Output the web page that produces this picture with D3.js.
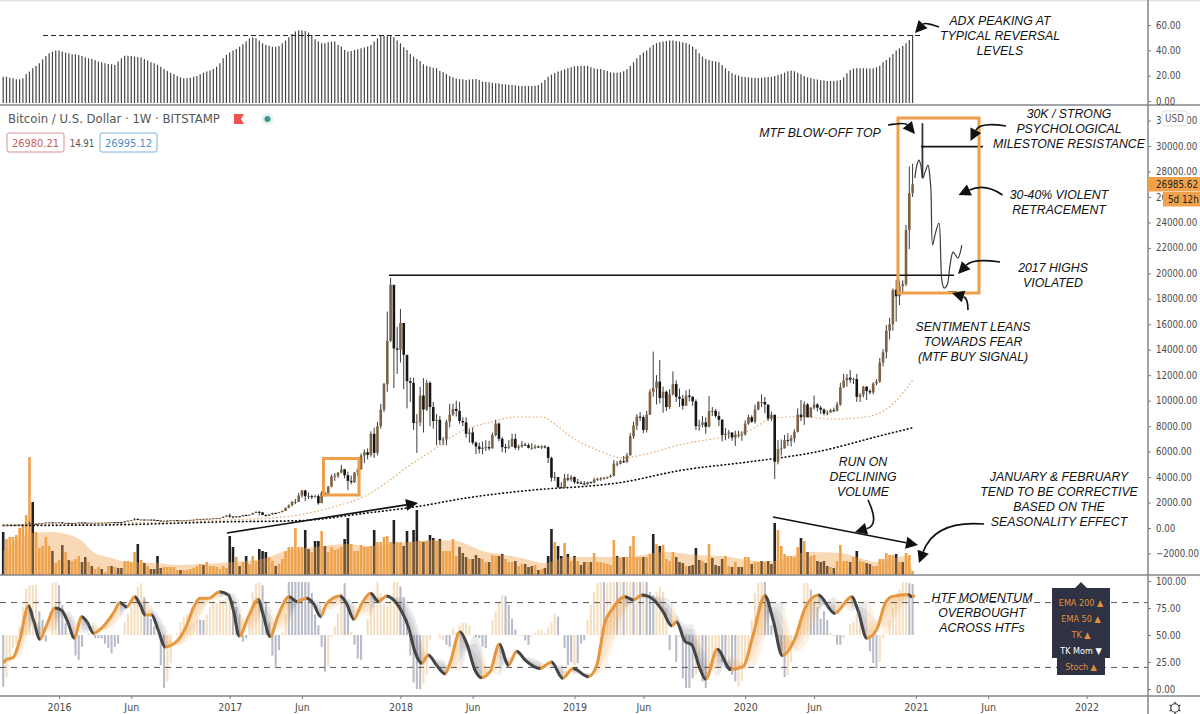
<!DOCTYPE html>
<html>
<head>
<meta charset="utf-8">
<script src="https://cdn.jsdelivr.net/npm/d3@7"></script>
<style>
  html, body { margin: 0; padding: 0; background: #fff; }
  svg { display: block; }
  .axis text { font-family: "DejaVu Sans Condensed", "DejaVu Sans", sans-serif; font-size: 9.6px; fill: #4a4a4a; }
  .axis line, .axis path { stroke: #787b86; }
  .note { font-family: "Liberation Sans", Arial, sans-serif; font-style: italic; font-size: 12.3px; fill: #111; text-anchor: middle; dominant-baseline: central; }
  .ui { font-family: "DejaVu Sans Condensed", "DejaVu Sans", sans-serif; }
</style>
</head>
<body>
<script>
// weekly bars, index 0 = Sep 2015
const weekClose = [
  230,232,235,239,245,262,283,325,372,332,
  326,371,388,432,440,422,432,448,380,402,
  375,373,405,437,430,410,412,415,416,419,
  423,430,450,460,458,457,441,530,580,610,
  700,665,665,650,660,655,625,590,570,580,
  575,610,623,605,605,615,620,640,655,700,
  705,705,730,730,770,780,790,895,990,905,
  830,920,915,1020,1000,1050,1180,1270,1230,1030,
  960,1080,1180,1170,1250,1340,1580,1780,2050,2050,
  2550,2950,2500,2500,2450,2500,1950,2750,2700,3250,
  4050,4100,4350,4600,4150,3700,3600,4350,4600,5700,
  5950,5750,7400,5900,8000,9300,11300,14700,19100,14100,
  14000,16100,13600,11530,11400,8240,8300,10400,9300,11400,
  9500,8400,8500,6900,6950,8350,8900,9350,9200,8400,
  8300,7400,7500,6700,6400,6200,6300,6350,6250,7300,
  8200,7000,6350,6300,6400,7000,6300,6400,6550,6500,
  6300,6300,6400,6350,6400,6350,5500,3950,4000,3200,
  3150,3900,3800,4000,3600,3550,3500,3450,3600,3550,
  3800,3850,3900,3950,4000,4100,5050,5050,5250,5200,
  5700,7200,8050,8750,8700,7700,8900,10700,11000,11500,
  10200,10700,9500,10500,11300,10300,10150,9600,10400,10300,
  9950,8000,8100,8300,7950,9200,9200,8800,8500,7300,
  7400,7500,7100,7300,7300,7350,8200,8700,8350,9300,
  9900,9900,9700,8600,8900,5200,6200,6250,6900,6850,
  7050,7550,8900,8700,9700,8700,9450,9700,9450,9300,
  9000,9050,9250,9200,9700,11050,11600,11800,11650,11700,
  10300,10450,11100,10750,10650,11350,11500,13000,13800,15500,
  16000,18700,18200,19000,19150,23400,26300,26985
];
const weekHigh = [
  236,238,240,242,248,266,292,335,500,385,
  340,378,392,445,470,465,440,462,448,410,
  405,382,410,445,445,438,420,420,422,424,
  428,433,455,468,468,462,457,535,590,625,
  785,770,680,672,680,665,660,630,595,590,
  585,615,630,625,610,620,625,645,660,735,
  715,720,745,745,780,790,795,900,1000,1140,
  910,945,930,1030,1060,1060,1200,1290,1330,1245,
  1060,1105,1200,1210,1265,1360,1620,1850,2120,2280,
  2760,2980,2990,2790,2610,2610,2650,2900,2860,3300,
  4200,4320,4400,4960,4650,4420,4120,4400,4680,5850,
  6170,6250,7600,7880,8350,9750,11400,17000,19650,17400,
  15800,17200,14900,12000,11800,11800,8950,11100,11770,11640,
  11530,9900,8950,8800,7150,8500,9750,9770,10000,9900,
  8700,8700,7800,7900,6800,6700,6800,6900,6850,7500,
  8500,8300,7150,6600,6900,7400,7410,6550,6830,6700,
  6650,6650,6560,6480,6500,6500,6400,5600,4400,4000,
  3600,4250,4250,4150,4050,3850,3700,3700,3650,3650,
  3950,3950,4000,4000,4030,4200,5350,5250,5350,5650,
  5900,7450,8350,8950,9100,8850,9200,10900,13850,12000,
  13200,11100,10800,10900,12300,11600,10950,10450,10800,10900,
  10350,10100,8500,8800,8700,10350,9500,9350,9150,8550,
  7850,7700,7500,7650,7650,7600,8450,8900,8850,9700,
  9950,10500,10300,9450,9150,8100,6900,6950,7300,7450,
  7300,7750,9400,10050,9950,9800,9500,10400,9800,9600,
  9400,9250,9350,9450,9900,11400,12100,12100,12400,11800,
  12100,10600,11150,11150,10900,11450,11700,13350,14050,15950,
  16500,18800,19500,19400,19450,23800,28400,28600
];
const weekLow = [
  226,228,230,234,240,245,260,280,320,300,
  305,315,360,385,425,415,415,425,365,375,
  372,365,370,400,425,405,405,410,412,415,
  418,420,428,445,445,450,430,440,520,570,
  605,620,630,640,645,650,620,550,560,565,
  565,570,605,600,590,600,610,615,630,650,
  680,690,695,720,730,750,775,785,885,785,
  760,815,885,905,950,990,1040,1150,975,1000,
  900,930,1040,1110,1160,1230,1330,1560,1700,1870,
  2050,2390,2100,2280,2270,2400,1830,2250,2470,2650,
  3200,3700,3950,4300,3900,2980,3440,3550,4100,4600,
  5100,5400,5600,5500,5700,7800,9100,10700,14600,11000,
  12100,13000,10900,9400,9900,7700,5900,8000,7500,9200,
  8000,7800,6500,6530,6500,6500,7900,8800,8750,8200,
  8000,7100,6700,6550,5800,5850,5800,6050,6100,6250,
  7200,6800,5950,5900,6200,6350,6150,6100,6300,6450,
  6250,6150,6200,6300,6200,6250,5100,3650,3700,3150,
  3130,3150,3650,3650,3450,3450,3450,3350,3370,3500,
  3520,3700,3700,3800,3850,3950,4050,4850,5000,5100,
  5100,5700,7000,7700,8400,7450,7500,8900,10300,9700,
  9800,9050,9200,9350,10400,9900,9500,9300,9600,9950,
  9600,7700,7650,7900,7400,7900,8800,8650,8000,6800,
  6900,7000,6850,6450,7100,6850,7250,8100,8250,8200,
  9250,9500,9000,8400,8400,3850,5000,5700,6250,6450,
  6400,6700,7500,8400,8100,8700,8700,9300,9150,8950,
  8850,8850,9100,9100,9150,9600,11000,11100,11400,11300,
  9900,9900,10250,10050,10500,10500,11200,11400,12700,13300,
  14800,15500,16200,17500,18500,19000,21900,26000
];
const adxValues = [
  19.2,19.2,18.4,17.9,17.1,17.1,17.9,21.3,23.2,25.8,
  27.7,29.8,32.9,35.6,37.7,39,39.8,39.8,39,38.2,
  37.7,36.9,36.9,36.4,35.6,34.5,33.7,33.2,32.4,31.1,
  30.6,29.8,29.2,29,28.5,31.1,33.7,35.8,35.8,35.6,
  35,34.5,34.3,33.2,31.9,30.6,29.8,28.5,27.1,25.3,
  23.7,22.4,21.3,19.8,18.7,17.9,17.9,18.4,19.2,19.8,
  21.1,22.4,23.2,24,25.3,27.1,29.8,33.7,36.4,38.2,
  39.8,41.1,42.9,44.8,46.9,49.5,50.3,49.5,47.7,45.6,
  44.3,43.7,42.9,42.9,43.5,45.6,47.7,50.3,52.9,54.8,
  55.6,55.6,55.3,54,52.2,48.8,46.9,45.6,45.6,46.4,
  46.9,46.9,44.3,43,40.3,39,39.5,40.3,40.9,41.7,
  42.2,43,44.3,46.9,49.5,51.4,51.4,51.4,51.4,50.3,
  47.7,45.6,42.4,40.3,37.2,35,33.2,31.6,29,27.9,
  27.1,26.3,25.8,23.7,22.6,21.3,19.8,18.7,17.7,17.4,
  17.1,16.6,16.9,17.1,17.4,16.6,15.3,15,14.8,14.5,
  14,14,13.4,13.2,12.9,12.6,12.4,12.1,11.9,11.9,
  11.9,11.9,12.1,12.6,14.5,16.6,19.2,20.8,22.1,23.2,
  24,25,25.8,26.6,27.4,27.7,27.9,27.9,27.7,26.6,
  25.8,25.3,25.3,24.5,23.7,22.6,22.4,22.4,22.6,23.5,
  25,27.7,30.6,33.7,36.4,38.2,39.8,42.2,44.3,45.6,
  46.4,46.9,47.4,47.7,47.7,47.4,46.9,46.4,45.8,44.8,
  43,40.9,37.7,35,33.2,32.4,31.6,31.1,30.6,28.5,
  25.8,23.7,21.9,20.8,20,19.2,19,18.7,18.4,18.4,
  18.2,18.4,18.7,19,19.2,19.8,20.6,21.3,22.4,23.5,
  24,23.5,22.4,21.1,19.8,18.7,18.2,17.4,16.9,16.3,
  16.1,15.8,15.8,15.8,16.1,16.6,18.7,21.9,24.5,25.6,
  25.8,25.8,25.8,25.6,25.6,25.8,26.6,27.9,30.6,32.4,
  34.5,37.2,39.8,41.6,43.5,45.6,48.2,52.2
];
const volumeValues = [
  43,36,38,38,40,47,51,60,118,73,
  43,27,29,38,29,24,12,15,30,23,
  15,14,16,19,13,18,13,9,6,8,
  6,3,9,9,8,7,7,14,14,13,
  23,31,15,12,9,6,6,19,7,8,
  8,8,8,5,5,5,5,6,7,9,
  11,10,13,9,9,8,6,9,7,39,
  28,18,9,13,19,11,19,14,26,24,
  23,18,14,9,11,16,24,28,28,47,
  28,28,45,26,23,34,34,44,29,23,
  28,25,26,28,36,57,31,24,24,30,
  28,28,29,45,33,33,38,39,33,55,
  33,33,29,44,33,45,65,34,33,34,
  40,37,34,36,24,24,24,36,19,28,
  22,18,16,16,20,17,16,13,13,20,
  19,19,21,16,13,13,14,9,11,11,
  8,9,10,5,6,7,19,46,33,29,
  19,32,21,14,19,14,10,13,13,13,
  22,13,13,12,11,10,35,19,17,18,
  18,29,39,18,18,18,18,21,41,31,
  29,30,16,14,23,18,13,12,9,9,
  10,27,15,14,12,31,17,10,9,16,
  19,9,8,13,8,8,18,18,11,13,
  13,14,13,14,11,52,45,29,21,19,
  19,18,28,37,34,23,19,20,14,13,
  14,9,8,7,14,30,14,14,13,18,
  24,14,13,12,11,9,9,16,16,22,
  20,20,21,13,13,22,20,4
];
const volumeDownBars = [
  0,9,15,18,20,24,25,27,30,33,35,36,41,43,45,46,47,48,54,61,69,70,72,74,78,79,80,83,
  92,93,95,96,98,104,105,113,119,122,123,125,126,128,130,131,133,139,140,141,143,144,145,148,
  151,152,156,159,160,161,163,165,166,167,169,170,172,174,176,177,179,187,189,195,198,200,
  205,206,207,209,210,211,212,214,216,217,218,219,222,224,225,228,231,233,234,235,243,245,
  248,249,250,251,253,258,260,263,264,272,274
];
const volumeAvgIdx = [0,9,15,19,24,27,33,38,47,53,60,70,80,86,95,105,111,121,131,138,146,151,158,165,172,189,202,211,219,230,235,245,255,261,266,275,277];
const volumeAvgVal = [24,42,43,41,34,24,17,13,12,10,11,13,17,24,28,31,29,32,35,34,24,21,17,12,18,18,23,20,19,14,14,23,22,17,13,19,4];

const histValues = [
  2,11,25,38,42,58,76,93,96,96,
  96,72,64,44,50,98,99,96,78,61,
  52,47,31,27,39,50,52,50,47,47,
  47,42,38,33,39,42,50,62,70,76,
  79,95,98,85,67,65,58,52,22,1,
  7,24,50,52,62,67,69,59,61,64,
  64,64,69,76,82,79,82,82,84,85,
  82,76,69,44,47,72,90,98,99,96,
  81,61,31,21,36,53,69,99,99,99,
  99,99,99,99,89,69,59,39,16,21,
  48,58,70,89,98,76,53,41,28,27,
  50,65,78,89,99,89,79,76,82,99,
  99,95,85,65,31,6,0,0,5,13,
  46,50,50,47,45,41,39,56,53,59,
  61,61,59,50,48,47,39,38,50,64,
  72,81,87,86,78,65,55,49,49,45,
  41,48,52,55,55,52,57,62,70,67,
  50,38,22,25,22,24,42,45,64,78,
  90,98,99,99,98,99,99,99,99,99,
  99,99,99,99,99,99,99,90,87,90,
  94,90,75,36,50,25,48,10,1,1,
  10,13,16,7,1,19,19,36,36,25,
  19,16,13,7,2,7,19,35,64,89,
  98,99,99,84,59,50,45,33,11,13,
  25,47,58,65,98,98,92,81,76,65,
  72,64,52,49,41,41,47,50,60,62,
  70,62,55,48,35,24,19,25,47,50,
  64,75,81,92,99,99,98,97
];
const histDownBars = [
  0,11,12,13,17,18,19,22,23,24,28,29,30,31,32,33,34,35,43,44,45,46,48,49,60,61,70,71,72,73,74,
  79,80,81,82,83,84,87,88,89,90,91,92,93,94,95,96,97,98,104,105,107,108,109,121,122,123,124,125,126,127,
  135,136,144,145,146,147,153,154,155,156,159,160,169,171,172,173,175,176,177,183,187,189,192,194,196,197,198,
  203,205,207,208,209,210,213,214,219,220,222,223,232,233,234,236,237,238,246,247,248,249,250,251,254,255,264,265,266,276,277
];
const stochIdx = [
  0,1,3,5,7.7,9.2,11.2,13.2,15.8,17.8,19.8,21.6,23.9,25.6,27.5,30.5,33.5,35.6,37.6,40.1,
  41.7,43.2,45.2,47.2,49.3,52.8,55.9,57.9,59.9,62.5,66,68.6,70.1,71.9,74.7,77.7,79.2,81.3,83.8,87.1,
  89.4,92.4,94.5,96.7,98.5,102.6,104.6,106.8,109.2,111.9,114.3,116.8,118.3,121.4,123.4,125.4,127.5,129.5,132,134.6,
  136.1,139.1,141.2,143.7,145.7,148.3,151.1,153.9,156.4,158.9,163.5,167,170.4,173.6,178.2,180.8,183.3,185.3,189.4,191.9,
  194.5,198,201,203.6,205.1,207.7,209.7,212.2,214,217.5,221.6,225.4,228.4,232,234.5,237.3,241.2,244.2,248.3,253.3,
  258.4,260.5,263,266,268.6,270.6,275.7,276.7,277.7
];
const stochK = [
  24,27.5,29,45,77,64,46,59,75,73,61,47,67,62,51.5,58,70,80,76,85.5,
  78,68.5,68.5,54.6,39,44,59,75,84,84,90,87,73,49,67,83,68.5,48.5,68.5,85.5,
  81,84,79,67,79,86,79,64.5,79,88.6,81,86,84,71.6,57.7,34.6,23.8,31.5,22,14,
  24,53,42,17.6,10.5,16,41.5,22,35,27,19,25,10,19,11.4,22,62,73,85.5,82.4,
  87,83,71.6,58.6,62,44,41,19,9,36.7,18,20.7,50,86.4,64,31,47,74.7,87,70,
  85.5,71.6,47,54.6,79,85.5,87.6,85.5,86.4
];
const stochD = [
  25,26,27,30,50,62,62,52,55,68,72,66,52,52,62,54,58,66,74,78,
  80,83,76,68,58,40,44,52,64,80,84,88,89,80,55,62,76,76,54,62,
  78,84,83,80,73,78,84,80,68,68,86,84,85,85,78,66,44,28,28,26,
  18,17,36,50,38,16,13,30,32,30,26,20,23,14,15,13,20,36,72,81,
  84,86,85,80,70,60,60,42,32,12,30,24,20,48,80,80,34,40,70,85,
  72,78,82,65,50,60,84,86,87
];
const ema50Idx = [0,29.5,60,85,100.5,110.8,116.9,123,131,139,147.4,156.5,164.4,167.5,173.5,181,188.8,197,207,217.4,227.5,234.5,242.7,252.8,263,270,277];
const ema50Val = [235,360,560,860,1650,2590,3600,4790,6120,7536,8243,8713,8713,8243,7065,6120,5515,5887,6594,7065,7693,8635,8740,8556,8740,9525,11600];
const ema200Idx = [0,29.5,70,90,110.8,126,141,161.4,181.8,187,207,227.5,248,268,277];
const ema200Val = [200,235,495,573,1177,1680,2355,2983,3375,3533,4553,5205,5990,7300,7870];
// hand drawn projection after the last bar
const sketchIdx = [277.7,278.3,278.9,279.5,280.1,280.8,281.7,282.3,282.6,283.1,283.8,285,285.6,285.9,286.6,287.5,288.4,289.3,289.9,290.8,292];
const sketchVal = [27475,28500,28890,28500,27475,27950,28500,27475,26530,22215,23000,23940,21040,19470,18840,19075,20650,21670,21510,21200,22215];
const sketchSpike = [280, 31790, 27475];

const priceTicks = d3.range(-2000, 32001, 2000);
const adxTicks = [0, 20, 40, 60];
const stochTicks = [0, 25, 50, 75, 100];
const timeTickIdx = [17,39,69,91,121,143,174,195,226,247,278,300,330];
const timeTickLabels = ["2016","Jun","2017","Jun","2018","Jun","2019","Jun","2020","Jun","2021","Jun","2022"];

const width = 1200, height = 714;
const axisX = 1148;
const orange = "#f0a24a", darkBar = "#222";

const svg = d3.select("body").append("svg").attr("width", width).attr("height", height);

svg.append("clipPath").attr("id", "plot").append("rect").attr("width", axisX).attr("height", height);

const x = d3.scaleLinear().domain([0, 330]).range([3.2, 3.2 + 3.283 * 330]);
const yAdx = d3.scaleLinear().domain([0, 60]).range([101, 25]);
const yPrice = d3.scaleLinear().domain([0, 30000]).range([528, 146]);
const yVol = d3.scaleLinear().domain([0, 118]).range([575, 457]);
const yStoch = d3.scaleLinear().domain([0, 100]).range([689, 581]);

const plot = svg.append("g").attr("clip-path", "url(#plot)");
const bars = d3.range(weekClose.length);

// ADX pane
plot.append("g").selectAll("line").data(adxValues).join("line")
  .attr("x1", (d, i) => x(i)).attr("x2", (d, i) => x(i))
  .attr("y1", 103).attr("y2", (d) => yAdx(d))
  .attr("stroke", "#444").attr("stroke-width", 1.2);

plot.append("line").attr("x1", 43).attr("x2", 922)
  .attr("y1", yAdx(51.7)).attr("y2", yAdx(51.7))
  .attr("stroke", "#222").attr("stroke-dasharray", "5,3");

// volume
const downVol = new Set(volumeDownBars);
plot.append("g").selectAll("rect").data(volumeValues).join("rect")
  .attr("x", (d, i) => x(i) - 1.3).attr("width", 2.6)
  .attr("y", (d) => yVol(d)).attr("height", (d) => yVol(0) - yVol(d))
  .attr("fill", (d, i) => (downVol.has(i) ? darkBar : orange));

plot.append("path").datum(volumeAvgIdx)
  .attr("d", d3.area().x((d) => x(d)).y0(yVol(0))
    .y1((d, i) => yVol(volumeAvgVal[i])).curve(d3.curveMonotoneX))
  .attr("fill", "#efa34e").attr("fill-opacity", 0.42);

// moving averages
function dotted(idx, val, color, w) {
  plot.append("path").datum(idx)
    .attr("d", d3.line().x((d) => x(d)).y((d, i) => yPrice(val[i])).curve(d3.curveMonotoneX))
    .attr("fill", "none").attr("stroke", color).attr("stroke-width", w)
    .attr("stroke-linecap", "round").attr("stroke-dasharray", "0.6,3.2");
}
dotted(ema50Idx, ema50Val, "#e6b178", 1.3);
dotted(ema200Idx, ema200Val, "#111", 1.7);

// candles
const candles = plot.append("g");
const openOf = (i) => (i === 0 ? 228 : weekClose[i - 1]);
candles.selectAll("line").data(bars).join("line")
  .attr("x1", (i) => x(i)).attr("x2", (i) => x(i))
  .attr("y1", (i) => yPrice(weekHigh[i])).attr("y2", (i) => yPrice(weekLow[i]))
  .attr("stroke", "#3c3c3c").attr("stroke-width", 1);
candles.selectAll("rect").data(bars).join("rect")
  .attr("x", (i) => x(i) - 1.3).attr("width", 2.6)
  .attr("y", (i) => yPrice(Math.max(openOf(i), weekClose[i])))
  .attr("height", (i) => Math.max(1, Math.abs(yPrice(openOf(i)) - yPrice(weekClose[i]))))
  .attr("fill", (i) => (weekClose[i] >= openOf(i) ? "#7d6344" : "#161616"));

// projection
plot.append("path").datum(sketchIdx)
  .attr("d", d3.line().x((d) => x(d)).y((d, i) => yPrice(sketchVal[i])).curve(d3.curveCatmullRom))
  .attr("fill", "none").attr("stroke", "#3c3c3c").attr("stroke-width", 1.2);
plot.append("line")
  .attr("x1", x(sketchSpike[0])).attr("x2", x(sketchSpike[0]))
  .attr("y1", yPrice(sketchSpike[1])).attr("y2", yPrice(sketchSpike[2]))
  .attr("stroke", "#333").attr("stroke-width", 1.8);

// levels and boxes
plot.append("line").attr("x1", 389).attr("x2", 954)
  .attr("y1", yPrice(19850)).attr("y2", yPrice(19850)).attr("stroke", "#111").attr("stroke-width", 1.6);
plot.append("line").attr("x1", 921).attr("x2", 983)
  .attr("y1", yPrice(29950)).attr("y2", yPrice(29950)).attr("stroke", "#111").attr("stroke-width", 1.6);
plot.append("line").attr("x1", 948).attr("x2", 957).attr("y1", 292).attr("y2", 292).attr("stroke", "#222").attr("stroke-width", 1.4);
[[898, 118, 81, 175], [323.5, 458.5, 35.5, 36.5]].forEach(([bx, by, bw, bh]) => {
  plot.append("rect").attr("x", bx).attr("y", by).attr("width", bw).attr("height", bh)
    .attr("fill", "none").attr("stroke", "#ef9f49").attr("stroke-width", 3);
});

// momentum pane
const downHist = new Set(histDownBars);
plot.append("g").selectAll("line").data(histValues).join("line")
  .attr("x1", (d, i) => x(i)).attr("x2", (d, i) => x(i))
  .attr("y1", yStoch(50)).attr("y2", (d) => yStoch(d))
  .attr("stroke", (d, i) => (downHist.has(i) ? "#b9bcc8" : "#f6dfc0"))
  .attr("stroke-width", 2.1);

// one clip per direction, so the smooth curves change colour at each turn
const stochSegs = stochIdx.slice(1).map((d, n) => ({
  x0: x(stochIdx[n]),
  x1: x(d),
  rising: stochK[n + 1] >= stochK[n],
}));
[["stochUp", true], ["stochDown", false]].forEach(([id, rising]) => {
  svg.append("clipPath").attr("id", id).selectAll("rect")
    .data(stochSegs.filter((s) => s.rising === rising)).join("rect")
    .attr("x", (s) => s.x0).attr("width", (s) => s.x1 - s.x0 + 0.3)
    .attr("y", 570).attr("height", 130);
});

// fan between the fast and slow lines
[1, 0.75, 0.5, 0.25].forEach((t) => {
  [["stochUp", "#f2ae66"], ["stochDown", "#85858e"]].forEach(([id, color]) => {
    plot.append("path").datum(stochIdx)
      .attr("clip-path", `url(#${id})`)
      .attr("d", d3.area().x((d) => x(d))
        .y0((d, j) => yStoch(stochK[j]))
        .y1((d, j) => yStoch(stochK[j] + (stochD[j] - stochK[j]) * t))
        .curve(d3.curveMonotoneX))
      .attr("fill", color).attr("fill-opacity", 0.16);
  });
});

[80, 20].forEach((v) => {
  plot.append("line").attr("x1", 0).attr("x2", axisX).attr("y1", yStoch(v)).attr("y2", yStoch(v))
    .attr("stroke", "#555").attr("stroke-dasharray", "6,5");
});

[["stochUp", "#e6963d"], ["stochDown", "#444"]].forEach(([id, color]) => {
  plot.append("path").datum(stochIdx)
    .attr("clip-path", `url(#${id})`)
    .attr("d", d3.line().x((d) => x(d)).y((d, j) => yStoch(stochK[j])).curve(d3.curveMonotoneX))
    .attr("fill", "none").attr("stroke", color).attr("stroke-width", 3);
});

// annotations
function note(lines, cx, top) {
  lines.forEach((t, n) => {
    svg.append("text").attr("class", "note").attr("x", cx).attr("y", top + n * 15).text(t);
  });
}
note(["ADX PEAKING AT", "TYPICAL REVERSAL", "LEVELS"], 1000, 21);
note(["MTF BLOW-OFF TOP"], 820, 132.5);
note(["30K / STRONG", "PSYCHOLOGICAL"], 1069, 114);
note(["MILESTONE RESISTANCE"], 1069, 144);
note(["30-40% VIOLENT", "RETRACEMENT"], 1059, 195);
note(["2017 HIGHS", "VIOLATED"], 1053, 268);
note(["SENTIMENT LEANS", "TOWARDS FEAR", "(MTF BUY SIGNAL)"], 973, 327);
note(["RUN ON", "DECLINING", "VOLUME"], 863, 461.5);
note(["JANUARY & FEBRUARY", "TEND TO BE CORRECTIVE", "BASED ON THE", "SEASONALITY EFFECT"], 1059, 477);
note(["HTF MOMENTUM", "OVERBOUGHT", "ACROSS HTFs"], 982, 597.5);

function arrow(x0, y0, cx, cy, x1, y1) {
  const a = Math.atan2(y1 - cy, x1 - cx);
  const len = 12, half = 6;
  const bx = x1 - len * Math.cos(a), by = y1 - len * Math.sin(a);
  const p = d3.path();
  p.moveTo(x0, y0);
  p.quadraticCurveTo(cx, cy, bx, by);
  svg.append("path").attr("d", p.toString()).attr("fill", "none").attr("stroke", "#111").attr("stroke-width", 1.7);
  const h = [
    [x1, y1],
    [bx - half * Math.sin(a), by + half * Math.cos(a)],
    [bx + half * Math.sin(a), by - half * Math.cos(a)],
  ];
  svg.append("path").attr("d", d3.line()(h) + "Z").attr("fill", "#111");
}
arrow(939, 27, 925, 22, 915, 33);
arrow(888, 125, 905, 122, 915, 134);
arrow(1006, 126, 980, 122, 970.5, 141);
arrow(1002.5, 195, 985, 183, 958.5, 195);
arrow(1000, 262, 973, 258, 958, 274);
arrow(968, 310, 968, 298, 952, 293);
arrow(868, 500, 880, 525, 855, 532);
arrow(984, 524, 935, 520, 919, 563);
arrow(227, 533, 320, 518, 418, 503);
arrow(773, 517, 845, 531, 918, 545);

// dividers and right axis
svg.append("rect").attr("width", width).attr("height", 1.5).attr("fill", "#e4e4e4");
[105, 575, 696].forEach((d) => {
  svg.append("line").attr("x1", 0).attr("x2", width).attr("y1", d).attr("y2", d)
    .attr("stroke", "#85868c").attr("stroke-width", 1.5);
});
svg.append("line").attr("x1", axisX).attr("x2", axisX).attr("y1", 0).attr("y2", height)
  .attr("stroke", "#85868c").attr("stroke-width", 1.5);

function rightAxis(scale, ticks) {
  const g = svg.append("g").attr("class", "axis").attr("transform", `translate(${axisX},0)`)
    .call(d3.axisRight(scale).tickValues(ticks).tickSize(3).tickPadding(5).tickFormat(d3.format(".2f")));
  g.select(".domain").remove();
}
rightAxis(yAdx, adxTicks);
rightAxis(yPrice, priceTicks);
rightAxis(yStoch, stochTicks);

const timeAxis = svg.append("g").attr("class", "axis").attr("transform", "translate(0,696)")
  .call(d3.axisBottom(x).tickValues(timeTickIdx).tickSize(3).tickPadding(5)
    .tickFormat((d, i) => timeTickLabels[i]));
timeAxis.select(".domain").remove();
timeAxis.selectAll("text").style("font-size", "10.5px");

// header
svg.append("text").attr("class", "ui").attr("x", 8).attr("y", 123)
  .attr("font-size", 13).attr("fill", "#555").text("Bitcoin / U.S. Dollar · 1W · BITSTAMP");
svg.append("path").attr("d", "M234 114h10l-3 5 3 5h-10z").attr("fill", "#ef5350");
svg.append("circle").attr("cx", 267.5).attr("cy", 119).attr("r", 6).attr("fill", "#e4f1ef");
svg.append("circle").attr("cx", 267.5).attr("cy", 119).attr("r", 3).attr("fill", "#3a9a8a");

[[7, 57, "#dc8f8f", "#c8605f", "26980.21"], [100, 57, "#7fb0d8", "#4e8fc6", "26995.12"]].forEach(([bx, bw, line, txt, label]) => {
  svg.append("rect").attr("x", bx).attr("y", 133).attr("width", bw).attr("height", 19).attr("rx", 2)
    .attr("fill", "#fff").attr("stroke", line);
  svg.append("text").attr("class", "ui").attr("x", bx + bw / 2).attr("y", 146.5).attr("text-anchor", "middle")
    .attr("font-size", 11).attr("fill", txt).text(label);
});
svg.append("text").attr("class", "ui").attr("x", 82).attr("y", 146.5).attr("text-anchor", "middle")
  .attr("font-size", 9.6).attr("fill", "#555").text("14.91");

// price scale labels
svg.append("rect").attr("x", axisX).attr("y", 177).attr("width", 52).attr("height", 14.5).attr("fill", orange);
svg.append("text").attr("class", "ui").attr("x", 1156).attr("y", 187.8)
  .attr("font-size", 9.8).attr("fill", "#222").text("26985.62");
svg.append("rect").attr("x", 1163).attr("y", 192).attr("width", 37).attr("height", 14.5).attr("fill", orange);
svg.append("text").attr("class", "ui").attr("x", 1168).attr("y", 203)
  .attr("font-size", 9.8).attr("fill", "#222").text("5d 12h");
svg.append("rect").attr("x", 1162).attr("y", 111).attr("width", 25).attr("height", 15).attr("rx", 3)
  .attr("fill", "#fff").attr("stroke", "#ddd");
svg.append("text").attr("class", "ui").attr("x", 1174.5).attr("y", 122).attr("text-anchor", "middle")
  .attr("font-size", 9.8).attr("fill", "#555").text("USD");

// trend table
svg.append("path")
  .attr("d", "M1081 582 L1087 588 H1110 V658 H1105 V675 H1057 V658 H1052 V588 H1075 Z")
  .attr("fill", "#2f3243");
const tableRows = ["EMA 200 ▲", "EMA 50 ▲", "TK ▲", "TK Mom ▼", "Stoch ▲"];
tableRows.forEach((t, n) => {
  svg.append("text").attr("class", "ui").attr("x", 1081).attr("y", 606 + n * 16)
    .attr("text-anchor", "middle").attr("font-size", 9)
    .attr("fill", t.startsWith("TK Mom") ? "#fff" : "#e0913c").text(t);
});

// settings icon
const gear = svg.append("g").attr("transform", "translate(1175,708)").attr("stroke", "#333").attr("fill", "none");
gear.append("circle").attr("r", 4.2).attr("stroke-width", 1.1);
d3.range(0, 360, 60).forEach((a) => {
  const r = (a * Math.PI) / 180;
  gear.append("line").attr("x1", 4.2 * Math.sin(r)).attr("y1", -4.2 * Math.cos(r))
    .attr("x2", 6.2 * Math.sin(r)).attr("y2", -6.2 * Math.cos(r)).attr("stroke-width", 1.2);
});
</script>
</body>
</html>
